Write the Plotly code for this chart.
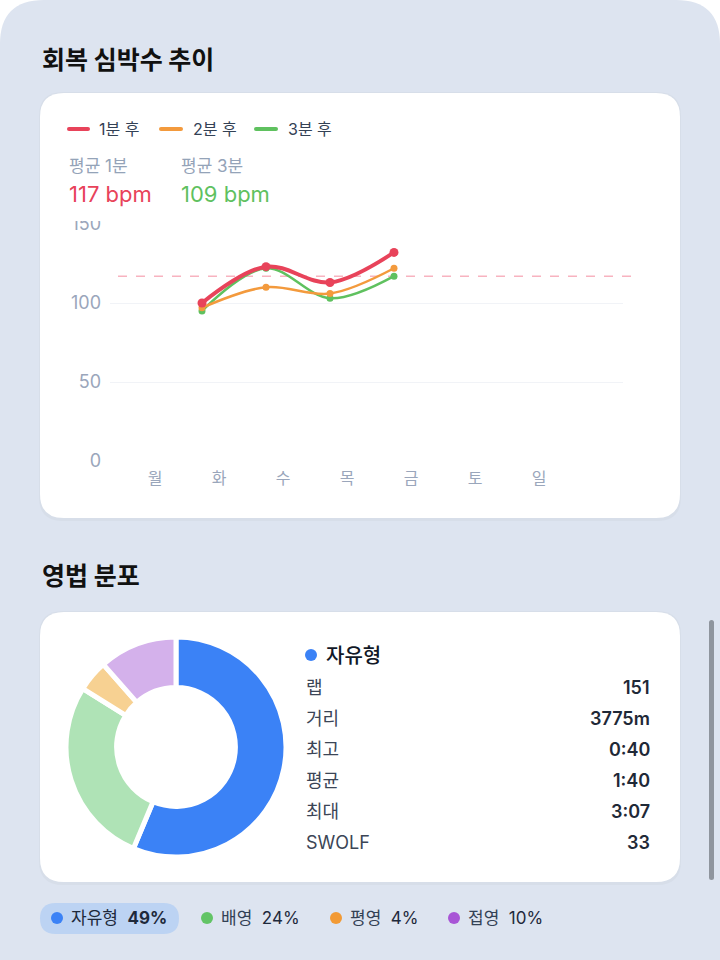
import plotly.graph_objects as go
import numpy as np

# ---------------- data ----------------
days = ["월", "화", "수", "목", "금", "토", "일"]
hr_1min = [None, 100, 123, 113, 132, None, None]
hr_2min = [None, 97, 110, 106, 122, None, None]
hr_3min = [None, 95, 122, 103, 117, None, None]
series_names = ["1분 후", "2분 후", "3분 후"]
y_ticks = [0, 50, 100, 150]

strokes = ["자유형", "배영", "평영", "접영"]
stroke_pct = [49, 24, 4, 10]
stat_labels = ["랩", "거리", "최고", "평균", "최대", "SWOLF"]
stat_values = ["151", "3775m", "0:40", "1:40", "3:07", "33"]

avg1 = round(np.mean([v for v in hr_1min if v is not None]))
avg3 = round(np.mean([v for v in hr_3min if v is not None]))

# ---------------- style ----------------
W, H = 720, 960
FONT = "Inter, 'Noto Sans CJK KR', sans-serif"
KFONT = "'Noto Sans CJK KR', sans-serif"
RED, ORANGE, GREEN = "#e8435a", "#f39a3d", "#5fc15f"
BLUE = "#3b82f6"
PALE = [BLUE, "#afe3b6", "#f7d192", "#d4b1eb"]
DOTS = [BLUE, "#62c466", "#f29a35", "#a855d6"]
BG = "#dde4f0"


def X(px):
    return px / W


def Y(py):
    return 1 - py / H


def rrect(x0, y0, x1, y1, r, corners=(1, 1, 1, 1)):
    tl, tr, br, bl = [r if c else 0 for c in corners]
    p = f"M {X(x0 + tl)},{Y(y0)} L {X(x1 - tr)},{Y(y0)} "
    p += f"Q {X(x1)},{Y(y0)} {X(x1)},{Y(y0 + tr)} L {X(x1)},{Y(y1 - br)} "
    p += f"Q {X(x1)},{Y(y1)} {X(x1 - br)},{Y(y1)} L {X(x0 + bl)},{Y(y1)} "
    p += f"Q {X(x0)},{Y(y1)} {X(x0)},{Y(y1 - bl)} L {X(x0)},{Y(y0 + tl)} "
    p += f"Q {X(x0)},{Y(y0)} {X(x0 + tl)},{Y(y0)} Z"
    return p


shapes = []
annotations = []


def shape_path(path, fill, layer="below"):
    shapes.append(dict(type="path", path=path, xref="paper", yref="paper",
                       fillcolor=fill, line=dict(width=0), layer=layer))


def text(px, py, t, size, color, anchor="left", weight=None, family=FONT):
    annotations.append(dict(x=X(px), y=Y(py), xref="paper", yref="paper", text=t,
                            showarrow=False, xanchor=anchor, yanchor="middle",
                            font=dict(size=size, color=color, family=family,
                                      weight=weight if weight else "normal")))


# page panel
shape_path(rrect(0, 0, 720, 960, 44, corners=(1, 1, 0, 0)), BG)
# card shadows + cards
shape_path(rrect(39, 92, 681, 521, 24), "#d7dee9")
shape_path(rrect(40, 93, 680, 518, 24), "#ffffff")
shape_path(rrect(39, 611, 681, 885, 24), "#d7dee9")
shape_path(rrect(40, 612, 680, 882, 24), "#ffffff")
# scrollbar
shape_path(rrect(709, 620, 714, 880, 2.5), "#8f959e")

# titles
text(40, 58, "회복 심박수 추이", 25, "#111111", weight="bold", family=KFONT)
text(40, 574, "영법 분포", 25, "#111111", weight="bold", family=KFONT)

# line chart legend
leg_x = [(67, 90, 97), (159, 183, 191), (254, 278, 286)]
for (a, b, tx), col, nm in zip(leg_x, [RED, ORANGE, GREEN], series_names):
    shape_path(rrect(a, 127, b, 131, 2), col)
    text(tx, 129, nm, 16, "#334155")

# averages
text(67, 166, "평균 1분", 17, "#94a3b8")
text(67, 194, f"{avg1} bpm", 22, RED)
text(179, 166, "평균 3분", 17, "#94a3b8")
text(179, 194, f"{avg3} bpm", 22, GREEN)

# average dashed line
shapes.append(dict(type="line", xref="paper", yref="y", x0=X(118), x1=X(633),
                   y0=avg1, y1=avg1, line=dict(color="#f8b3c0", width=1.5, dash="dash"),
                   layer="below"))

# mask over top of clipped "150" label
shapes.append(dict(type="rect", xref="paper", yref="paper", x0=X(58), x1=X(108),
                   y0=Y(221), y1=Y(206), fillcolor="#ffffff", line=dict(width=0),
                   layer="above"))

fig = go.Figure()
for ys, col, lw, ms, nm in [(hr_3min, GREEN, 2.5, 7, series_names[2]),
                            (hr_2min, ORANGE, 2.5, 7, series_names[1]),
                            (hr_1min, RED, 4, 9, series_names[0])]:
    fig.add_trace(go.Scatter(x=days, y=ys, mode="lines+markers", name=nm,
                             line=dict(color=col, width=lw, shape="spline", smoothing=1),
                             marker=dict(color=col, size=ms), cliponaxis=False,
                             hoverinfo="skip", connectgaps=False))

# donut
fig.add_trace(go.Pie(labels=strokes, values=stroke_pct, hole=0.54, sort=False,
                     direction="clockwise", rotation=0, textinfo="none",
                     marker=dict(colors=PALE, line=dict(color="#ffffff", width=5)),
                     domain=dict(x=[X(66), X(286)], y=[Y(857), Y(637)]),
                     hoverinfo="skip", showlegend=False))

# stats panel
shapes.append(dict(type="circle", xref="paper", yref="paper",
                   x0=X(305), x1=X(317), y0=Y(661), y1=Y(649),
                   fillcolor=BLUE, line=dict(width=0)))
text(324, 656, strokes[0], 20, "#111827", weight=500)
row_y = [687, 718, 749, 780, 811, 842]
for lab, val, ry in zip(stat_labels, stat_values, row_y):
    text(304, ry, lab, 18, "#3b4556")
    text(652, ry, val, 18, "#1f2937", anchor="right", weight=600)

# bottom legend
shape_path(rrect(40, 903, 179, 934, 15.5), "#bcd3f3")
dot_x = [57, 207, 336, 454]
txt_x = [69, 219, 348, 466]
for i, (nm, pct) in enumerate(zip(strokes, stroke_pct)):
    shapes.append(dict(type="circle", xref="paper", yref="paper",
                       x0=X(dot_x[i] - 6), x1=X(dot_x[i] + 6), y0=Y(924), y1=Y(912),
                       fillcolor=DOTS[i], line=dict(width=0)))
    if i == 0:
        t = f"{nm}  <b>{pct}%</b>"
    else:
        t = f"{nm}  <span style='color:#1e293b'>{pct}%</span>"
    text(txt_x[i], 918, t, 17, "#334155" if i else "#1e293b")

fig.update_layout(
    width=W, height=H, margin=dict(l=0, r=0, t=0, b=0, pad=0, autoexpand=False),
    paper_bgcolor="#ffffff", plot_bgcolor="rgba(0,0,0,0)",
    showlegend=False, shapes=shapes, annotations=annotations,
    font=dict(family=FONT),
    xaxis=dict(domain=[X(110), X(623)], type="category", range=[-0.4375, 7.578],
               showgrid=False, zeroline=False, showline=False, ticks="",
               tickfont=dict(size=16, color="#9aa6bb", family=KFONT), automargin=False,
               ticklabelshift=17, ticklabelstandoff=6, fixedrange=True),
    yaxis=dict(domain=[Y(461), Y(224)], range=[0, 150], tickvals=y_ticks,
               showgrid=True, gridcolor="#f1f3f7", gridwidth=1, zeroline=False,
               showline=False, ticks="", tickfont=dict(size=18, color="#9aa6bb"),
               automargin=False, ticklabelstandoff=8, fixedrange=True),
)

fig.write_html("out.html", config={"displayModeBar": False},
               post_script="document.body.style.margin='0';document.body.style.overflow='hidden';")
